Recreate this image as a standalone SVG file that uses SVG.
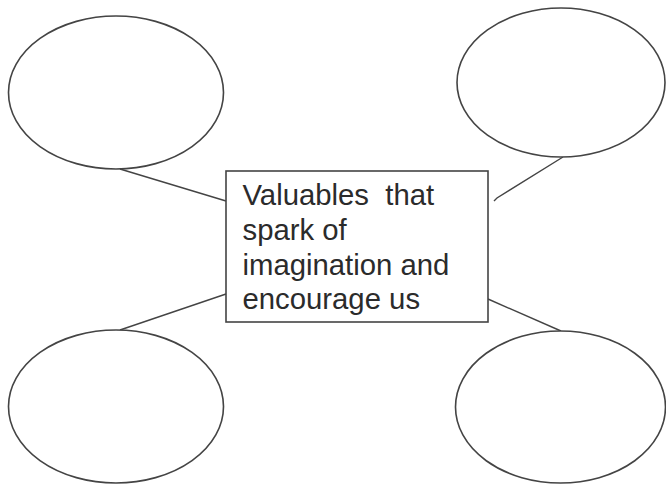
<svg xmlns="http://www.w3.org/2000/svg" width="666" height="485" viewBox="0 0 666 485">
<style>
.shape{fill:#fff;stroke:#444;stroke-width:1.6}
.conn{stroke:#444;stroke-width:1.4;fill:none}
.label{font-family:"Liberation Sans",Arial,sans-serif;font-size:29.3px;fill:#2b2b2b}
</style>
<rect width="666" height="485" fill="#fff"/>
<g id="connectors">
<line class="conn" x1="120" y1="169" x2="226" y2="201"/>
<polyline class="conn" points="563,157 497,198 494,201"/>
<line class="conn" x1="120" y1="330" x2="226" y2="294"/>
<line class="conn" x1="488" y1="299" x2="561" y2="331"/>
</g>
<g id="node-top-left"><ellipse class="shape" cx="116" cy="92.5" rx="107.5" ry="76.5"/></g>
<g id="node-top-right"><ellipse class="shape" cx="561" cy="82.5" rx="104" ry="74.5"/></g>
<g id="node-bottom-left"><ellipse class="shape" cx="116" cy="406.5" rx="107.5" ry="76.5"/></g>
<g id="node-bottom-right"><ellipse class="shape" cx="560.5" cy="407" rx="105" ry="76"/></g>
<g id="node-center">
<rect class="shape" x="226" y="171" width="262" height="151"/>
<text class="label" x="242.5" y="205" xml:space="preserve">Valuables  that</text>
<text class="label" x="242.5" y="240">spark of</text>
<text class="label" x="242.5" y="275">imagination and</text>
<text class="label" x="242.5" y="309">encourage us</text>
</g>
</svg>
